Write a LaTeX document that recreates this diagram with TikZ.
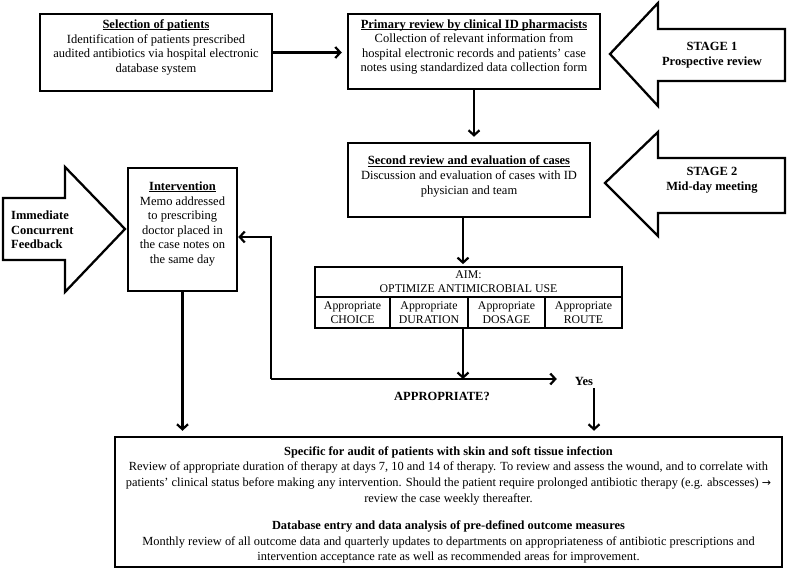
\documentclass[tikz,border=0pt]{standalone}
\usepackage{fontspec}
\setmainfont{Liberation Serif}
\newfontfamily\arrowfont{DejaVu Sans}
\usetikzlibrary{arrows.meta}
\newcommand\myfs{\fontsize{12.5}{14.6}\selectfont}
\newcommand\mysm{\fontsize{11.8}{14.2}\selectfont}
\newcommand\myul[1]{\setbox0\hbox{#1}\rlap{\rule[-1.6pt]{\wd0}{0.8pt}}\box0}
\begin{document}
\begin{tikzpicture}[x=1pt,y=-1pt,
  box/.style={draw, line width=2.5pt, inner sep=0pt},
  cell/.style={draw, line width=1.8pt, inner sep=0pt, align=center, font=\mysm},
  txt/.style={align=center, inner sep=0pt, font=\myfs},
  btxt/.style={align=center, inner sep=0pt, font=\myfs\bfseries},
  arr/.style={-{Straight Barb[length=5pt,width=11pt,line width=2.2pt]}, line width=2.2pt},
  blk/.style={draw, line width=2.3pt, line join=miter}]
\useasboundingbox (0,0) rectangle (788,575);

% block arrows
\draw[blk] (785,29) -- (658,29) -- (658,3) -- (610,54) -- (658,106) -- (658,81) -- (785,81) -- cycle;
\draw[blk] (785,158) -- (658,158) -- (658,132) -- (605,183) -- (658,236) -- (658,213) -- (785,213) -- cycle;
\draw[blk] (3,198) -- (65,198) -- (65,167) -- (125,229) -- (65,292) -- (65,260) -- (3,260) -- cycle;
\node[btxt] (st1) at (712,55) {STAGE 1\\Prospective review};
\node[btxt] (st2) at (712,180.5) {STAGE 2\\Mid-day meeting};
\node[btxt, align=left, anchor=west] (icf) at (11,230) {Immediate\\Concurrent\\Feedback};

% boxes
\node[box, minimum width=232pt, minimum height=77pt] (sel) at (156,52.5) {};
\node[txt] (selT) at (156,47.5) {\myul{\textbf{Selection of patients}}\\Identification of patients prescribed\\audited antibiotics via hospital electronic\\database system};

\node[box, minimum width=252pt, minimum height=75pt] (prim) at (474,51.5) {};
\node[txt] (primT) at (474,47) {\myul{\textbf{Primary review by clinical ID pharmacists}}\\Collection of relevant information from\\hospital electronic records and patients’ case\\notes using standardized data collection form};

\node[box, minimum width=242pt, minimum height=74pt] (sec) at (469,180) {};
\node[txt] (secT) at (469,176.5) {\myul{\textbf{Second review and evaluation of cases}}\\Discussion and evaluation of cases with ID\\physician and team};

\node[box, minimum width=109pt, minimum height=123pt] (int) at (182.5,229.5) {};
\node[txt] (intT) at (182.5,224) {\myul{\textbf{Intervention}}\\Memo addressed\\to prescribing\\doctor placed in\\the case notes on\\the same day};

% AIM table
\node[cell, minimum width=307pt, minimum height=30pt] (aim) at (468.5,282) {AIM:\\OPTIMIZE ANTIMICROBIAL USE};
\node[cell, minimum width=75pt, minimum height=31pt] (c1) at (352.5,312.5) {Appropriate\\CHOICE};
\node[cell, minimum width=78pt, minimum height=31pt] (c2) at (429,312.5) {Appropriate\\DURATION};
\node[cell, minimum width=77pt, minimum height=31pt] (c3) at (506.5,312.5) {Appropriate\\DOSAGE};
\node[cell, minimum width=77pt, minimum height=31pt] (c4) at (583.5,312.5) {Appropriate\\ROUTE};

% bottom box
\node[box, minimum width=667pt, minimum height=130pt] (bot) at (448.5,502) {};
\node[txt, font=\fontsize{12.4}{15.8}\selectfont] (botT) at (448.5,505) {\textbf{Specific for audit of patients with skin and soft tissue infection}\\
Review of appropriate duration of therapy at days 7, 10 and 14 of therapy. To review and assess the wound, and to correlate with\\
patients’ clinical status before making any intervention. Should the patient require prolonged antibiotic therapy (e.g. abscesses) {\arrowfont\fontsize{11}{12}\selectfont →}\\
review the case weekly thereafter.\\[11pt]
\textbf{Database entry and data analysis of pre-defined outcome measures}\\
Monthly review of all outcome data and quarterly updates to departments on appropriateness of antibiotic prescriptions and\\
intervention acceptance rate as well as recommended areas for improvement.};

% labels
\node[btxt] (appr) at (442,396) {APPROPRIATE?};
\node[btxt] (yes) at (584,381) {Yes};

% connectors
\coordinate (corner) at (271,379);
\coordinate (fb) at (271,237);
\coordinate (aimx) at (463,0);
\draw[arr, shorten >=5pt] (sel.east) -- (sel.east -| prim.west);
\draw[arr, shorten >=5pt] (prim.south) -- (prim.south |- sec.north);
\draw[arr, shorten >=2pt] (aimx |- sec.south) -- (aimx |- aim.north);
\draw[arr] (aimx |- c2.south) -- (aimx |- corner);
\draw[arr, shorten >=18pt] (corner) -- (corner -| yes.west);
\draw[arr] (corner) -- (fb) -- (fb -| int.east);
\draw[arr, shorten >=5pt] (int.south) -- (int.south |- bot.north);
\draw[arr, shorten >=5pt] ([xshift=10pt,yshift=-3pt]yes.south) -- ([xshift=10pt]yes.south |- bot.north);
\end{tikzpicture}
\end{document}
